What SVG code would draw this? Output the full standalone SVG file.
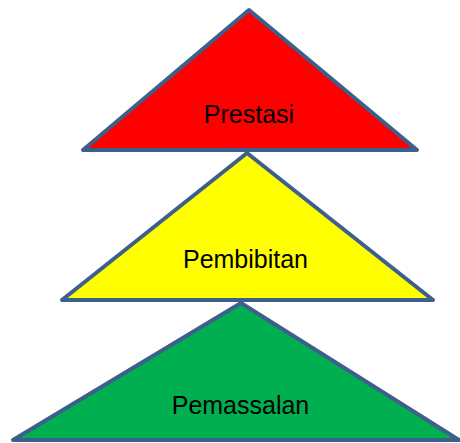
<svg xmlns="http://www.w3.org/2000/svg" width="460" height="443" viewBox="0 0 460 443">
<style>
.tri{stroke:#3C5F8C;stroke-width:4;stroke-linejoin:round}
.lbl{font-family:"Liberation Sans",Arial,sans-serif;font-size:25px;fill:#000;text-anchor:middle}
</style>
<rect width="460" height="443" fill="#fff"/>
<g id="connectors"/>
<g id="pemassalan">
<polygon class="tri" points="241,303 459,440 13,440" fill="#00B050"/>
<text class="lbl" x="240.5" y="414">Pemassalan</text>
</g>
<g id="pembibitan">
<polygon class="tri" points="247,153 433,300 62,300" fill="#FFFF00"/>
<text class="lbl" x="245.5" y="268">Pembibitan</text>
</g>
<g id="prestasi">
<polygon class="tri" points="249,10 417,150 83,150" fill="#FF0000"/>
<text class="lbl" x="249" y="123">Prestasi</text>
</g>
</svg>
